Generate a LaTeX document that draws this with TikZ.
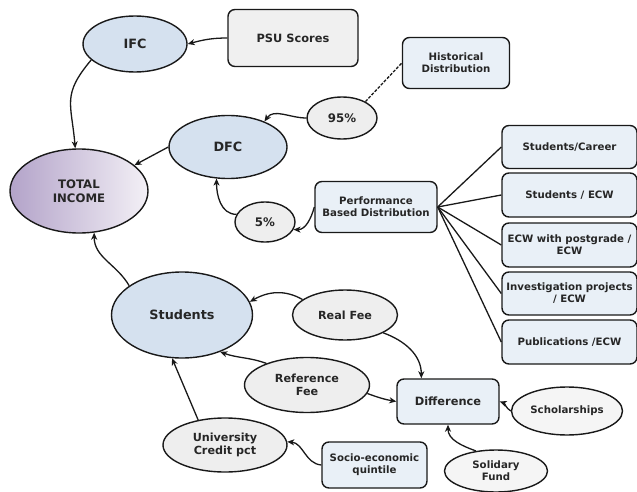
\documentclass[tikz,border=0pt]{standalone}
\usepackage{fontspec}
\setmainfont{DejaVu Sans}
\usetikzlibrary{shapes.geometric,arrows.meta}
\definecolor{blueE}{HTML}{D5E1EF}
\definecolor{grayE}{HTML}{EEEEEE}
\definecolor{boxC}{HTML}{E9F0F7}
\definecolor{psuC}{HTML}{F0F0F0}
\definecolor{purD}{HTML}{B3A3C9}
\definecolor{purL}{HTML}{F3F0F6}
\definecolor{txt}{HTML}{262626}
\begin{document}
\begin{tikzpicture}[x=1pt,y=-1pt,
  base/.style={draw=black!90, line width=1.4pt, text=txt, align=center, inner sep=0pt,
    font=\bfseries\fontsize{10.2}{12}\selectfont},
  ell/.style={base, ellipse},
  bell/.style={ell, fill=blueE, font=\bfseries\fontsize{12.8}{14}\selectfont},
  gell/.style={ell, fill=grayE},
  box/.style={base, rectangle, rounded corners=7pt, fill=boxC},
  arr/.style={draw=black!90, line width=1.3pt, -{Stealth[length=7pt,width=6pt,inset=2pt]}},
  ln/.style={draw=black!90, line width=1.3pt}]
\useasboundingbox (0,0) rectangle (637,492);

% main ellipses
\node[bell, minimum width=104pt, minimum height=56pt] (ifc) at (135,44) {IFC};
\node[bell, minimum width=118pt, minimum height=63pt] (dfc) at (228,147) {DFC};
\node[ell, minimum width=138pt, minimum height=84pt, left color=purD, right color=purL,
  font=\bfseries\fontsize{11.7}{13.5}\selectfont] (total) at (79,191) {TOTAL\\INCOME};
\node[bell, minimum width=141pt, minimum height=86pt] (stud) at (182,315) {Students};

% boxes top
\node[box, fill=psuC, minimum width=130pt, minimum height=57pt,
  font=\bfseries\fontsize{11.4}{13}\selectfont] (psu) at (293,38) {PSU Scores};
\node[box, minimum width=107pt, minimum height=51pt] (hist) at (456,63) {Historical\\Distribution};
\node[gell, minimum width=70pt, minimum height=42pt, font=\bfseries\fontsize{11.8}{13}\selectfont] (p95) at (342,118) {95\%};
\node[gell, minimum width=60pt, minimum height=40pt, font=\bfseries\fontsize{11.8}{13}\selectfont] (p5) at (265,222) {5\%};
\node[box, minimum width=122pt, minimum height=51pt] (perf) at (376,207) {Performance\\Based Distribution};

% right column
\node[box, minimum width=135pt, minimum height=43pt] (b1) at (569.5,147) {Students/Career};
\node[box, minimum width=135pt, minimum height=44pt] (b2) at (569.5,195) {Students / ECW};
\node[box, minimum width=135pt, minimum height=44pt] (b3) at (569.5,245) {ECW with postgrade /\\ECW};
\node[box, minimum width=135pt, minimum height=43pt] (b4) at (569.5,293.5) {Investigation projects\\/ ECW};
\node[box, minimum width=135pt, minimum height=44pt] (b5) at (569.5,342) {Publications /ECW};

% lower part
\node[gell, minimum width=105pt, minimum height=50pt, font=\bfseries\fontsize{11.2}{13}\selectfont] (real) at (345,315) {Real Fee};
\node[gell, minimum width=125pt, minimum height=55pt, font=\bfseries\fontsize{11.2}{13}\selectfont] (ref) at (307,385) {Reference\\Fee};
\node[gell, minimum width=124pt, minimum height=54pt, font=\bfseries\fontsize{11.2}{13}\selectfont] (univ) at (225,445) {University\\Credit pct};
\node[box, minimum width=102pt, minimum height=45pt, font=\bfseries\fontsize{11.4}{13}\selectfont] (diff) at (448,401.5) {Difference};
\node[gell, fill=grayE!60, minimum width=111pt, minimum height=48pt] (schol) at (567,411) {Scholarships};
\node[box, minimum width=105pt, minimum height=46pt] (socio) at (374.5,465) {Socio-economic\\quintile};
\node[gell, fill=grayE!60, minimum width=103pt, minimum height=42pt] (sol) at (496,471) {Solidary\\Fund};

% connectors
\draw[arr] (psu.west) to[out=180,in=15] (ifc.east);
\draw[arr] (ifc.200) to[out=230,in=95, looseness=1.3] (total.95);
\draw[arr] (dfc.west) -- (total.25);
\draw[arr] (p95.west) to[out=180,in=55] (dfc.35);
\draw[ln, dash pattern=on 3pt off 1.5pt] (p95.35) -- (hist.west);
\draw[arr] (p5.165) to[out=180,in=-90] (dfc.250);
\draw[arr] (perf.west) to[out=255,in=0] (p5.-15);
\foreach \b in {b1,b2,b3,b4,b5} \draw[ln] (perf.east) -- (\b.west);
\draw[arr] (stud.151) to[out=120,in=-90] (total.-70);
\draw[arr] (real.160) to[out=150,in=30] (stud.11);
\draw[arr] (real.-25) to[out=-20,in=90] (diff.139);
\draw[arr] (ref.152) to[out=160,in=-20] (stud.-44);
\draw[arr] (ref.-8) to[out=-20,in=170] (diff.west);
\draw[arr] (univ.137) -- (stud.257);
\draw[arr] (socio.west) to[out=175,in=-5] (univ.3);
\draw[arr] (schol.west) to[out=150,in=-20] (diff.east);
\draw[arr] (sol.135) to[out=160,in=-90] (diff.south);
\end{tikzpicture}
\end{document}
